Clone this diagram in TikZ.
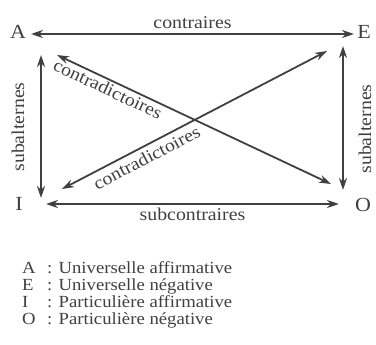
\documentclass[tikz,border=0pt]{standalone}
\usepackage{fontspec}
\setmainfont{Liberation Serif}[FakeStretch=1.1]
\usetikzlibrary{arrows.meta}
\definecolor{gris}{HTML}{404040}
\tikzset{
  fleche/.style={draw=gris, line width=1.8pt,
    {Stealth[length=12pt,width=8pt]}-{Stealth[length=12pt,width=8pt]}},
  sommet/.style={text=gris, font=\fontsize{20}{20}\selectfont, inner sep=0pt},
  etiquette/.style={text=gris, font=\fontsize{18}{18}\selectfont, inner sep=1pt},
  legende/.style={text=gris, font=\fontsize{17}{17}\selectfont, anchor=base west, inner sep=0pt}
}
\begin{document}
\begin{tikzpicture}[x=1pt,y=-1pt]
    \useasboundingbox (0,0) rectangle (376,345);
    % sommets du carre
    \node [sommet] (A) at (18,32) {A};
    \node [sommet] (E) at (364,32) {E};
    \node [sommet] (I) at (19,204) {I};
    \node [sommet] (O) at (363,205) {O};
    % extremites des fleches
    \coordinate (a1) at (31,34);
    \coordinate (e1) at (354,34);
    \coordinate (a2) at (41,55);
    \coordinate (i2) at (41,198);
    \coordinate (e2) at (343,46);
    \coordinate (o2) at (343,190);
    \coordinate (i1) at (46,204);
    \coordinate (o1) at (339,204);
    \coordinate (a3) at (57,55);
    \coordinate (o3) at (331,184);
    \coordinate (e3) at (327,51);
    \coordinate (i3) at (62,189);
    % relations
    \draw [fleche] (a1) -- (e1) node [midway, above=3pt, etiquette] (contr) {contraires};
    \draw [fleche] (i1) -- (o1) node [midway, below=2pt, etiquette] (subc) {subcontraires};
    \draw [fleche] (a2) -- (i2);
    \draw [fleche] (e2) -- (o2);
    \draw [fleche] (a3) -- (o3) node [pos=0.2, sloped, below=1pt, etiquette] (cdg) {contradictoires};
    \draw [fleche] (i3) -- (e3) node [pos=0.3, sloped, below=3pt, etiquette] (cdd) {contradictoires};
    \node [etiquette, rotate=90] (subg) at (18,127) {subalternes};
    \node [etiquette, rotate=90] (subd) at (365,129) {subalternes};
    % legende
    \node [legende] (lA) at (22,274) {A};
    \node [legende] (lE) at (22,291) {E};
    \node [legende] (lI) at (22,308) {I};
    \node [legende] (lO) at (22,325) {O};
    \node [legende] (tA) at (47,274) {: Universelle affirmative};
    \node [legende] (tE) at (47,291) {: Universelle négative};
    \node [legende] (tI) at (47,308) {: Particulière affirmative};
    \node [legende] (tO) at (47,325) {: Particulière négative};
\end{tikzpicture}
\end{document}
